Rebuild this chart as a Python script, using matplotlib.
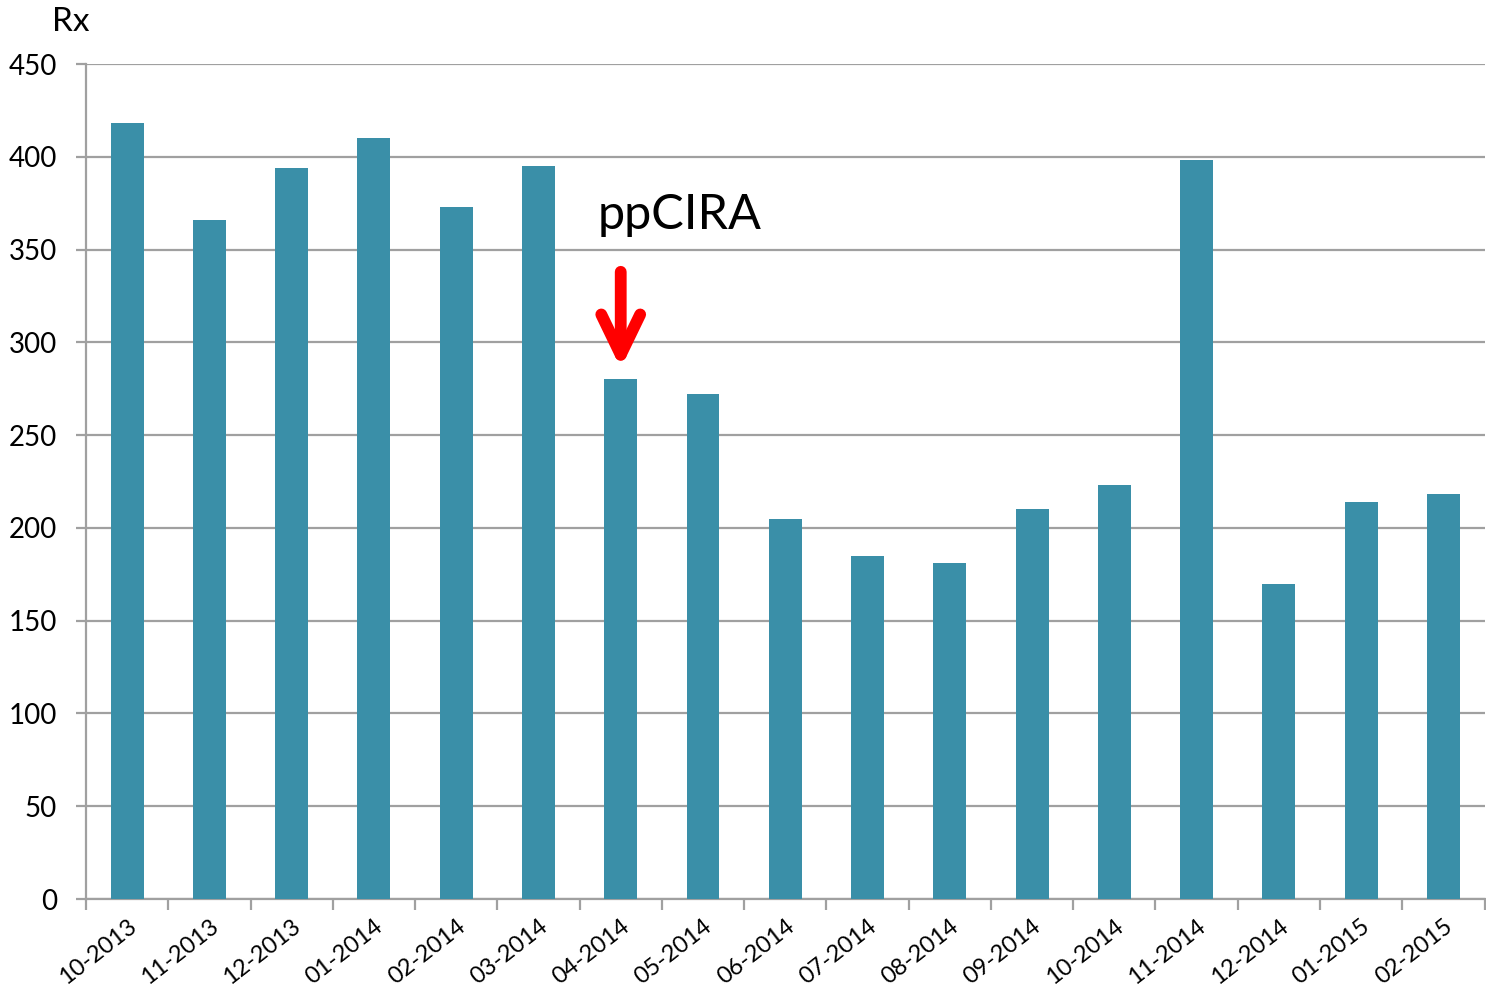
import matplotlib.pyplot as plt
import numpy as np

plt.rcParams['font.family'] = ['Lato', 'DejaVu Sans']

months = ['10-2013', '11-2013', '12-2013', '01-2014', '02-2014', '03-2014',
          '04-2014', '05-2014', '06-2014', '07-2014', '08-2014', '09-2014',
          '10-2014', '11-2014', '12-2014', '01-2015', '02-2015']
rx = [418, 366, 394, 410, 373, 395, 280, 272, 205, 185, 181, 210,
      223, 398, 170, 214, 218]
yticks = [0, 50, 100, 150, 200, 250, 300, 350, 400, 450]

bar_color = '#3A8FA8'
grid_color = '#A0A0A0'

fig = plt.figure(figsize=(14.86, 9.88), dpi=100)
ax = fig.add_axes([86 / 1486, 89 / 988, 1 - 86 / 1486 - 0.001, (899 - 64) / 988])

x = np.arange(len(months))
ax.bar(x, rx, width=0.4, color=bar_color, zorder=3)

ax.set_xlim(-0.5, len(months) - 0.5)
ax.set_ylim(0, 450)
ax.set_yticks(yticks)
ax.set_yticklabels([str(v) for v in yticks], fontsize=20)
ax.yaxis.grid(True, color=grid_color, lw=1.6, zorder=0)

# ticks sit between categories, labels centred under bars
ax.set_xticks(np.arange(len(months) + 1) - 0.5)
ax.set_xticklabels([])
ax.set_xticks(x, minor=True)
ax.set_xticklabels(months, minor=True, rotation=38, ha='right',
                   rotation_mode='anchor', fontsize=17)
ax.tick_params(axis='x', which='major', direction='out', length=8,
               width=1.6, color=grid_color)
ax.tick_params(axis='x', which='minor', length=0, pad=12)
ax.tick_params(axis='y', direction='out', length=7, width=1.6,
               color=grid_color, pad=14)

for side in ['top', 'right']:
    ax.spines[side].set_visible(False)
for side in ['left', 'bottom']:
    ax.spines[side].set_color(grid_color)
    ax.spines[side].set_linewidth(1.6)

ax.annotate('', xy=(6, 286), xytext=(6, 338),
            arrowprops=dict(arrowstyle='->,head_length=2.9,head_width=1.4',
                            mutation_scale=10, lw=8.5, color='#FF0000',
                            capstyle='round', joinstyle='round',
                            shrinkA=0, shrinkB=0),
            zorder=5)
ax.text(5.72, 361, 'ppCIRA', fontsize=35, ha='left', va='baseline')

fig.text(52 / 1486, 1 - 31 / 988, 'Rx', fontsize=24, ha='left', va='baseline')

fig.savefig('out.png', dpi=100)
